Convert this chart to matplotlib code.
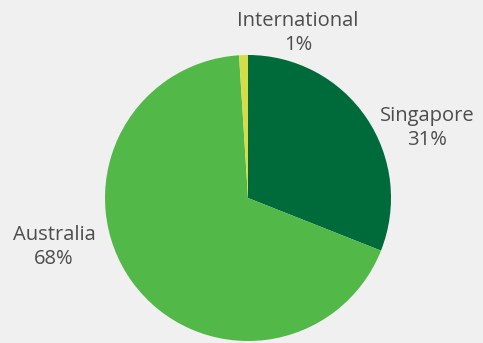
import matplotlib.pyplot as plt

labels = ["Singapore", "Australia", "International"]
shares = [31, 68, 1]
colors = ["#006b3a", "#52b848", "#d4dc4a"]

# label centres in pixel coords (x, y from top)
label_pos = [(427, 128), (54, 247), (298, 33)]

W, H = 483, 343
fig = plt.figure(figsize=(W / 100, H / 100), dpi=100)
fig.patch.set_facecolor("#f0f0f0")
ax = fig.add_axes([0, 0, 1, 1])
ax.set_facecolor("#f0f0f0")

ax.pie(shares, colors=colors, startangle=90, counterclock=False,
       center=(248, H - 198), radius=143, frame=True,
       wedgeprops=dict(linewidth=0))
ax.set_xlim(0, W)
ax.set_ylim(0, H)
ax.set_aspect("equal")
ax.axis("off")

for name, val, (x, y) in zip(labels, shares, label_pos):
    ax.text(x, H - y, f"{name}\n{val}%", ha="center", va="center",
            fontsize=14.5, color="#4d4d4d", linespacing=1.3,
            family="Open Sans")

fig.savefig("out.png", dpi=100, facecolor=fig.get_facecolor())
